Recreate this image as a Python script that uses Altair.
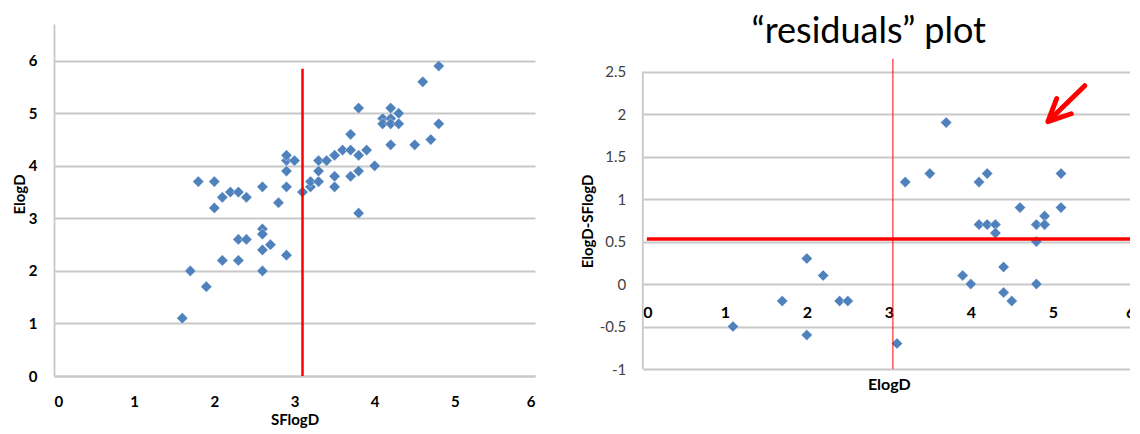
import altair as alt
import pandas as pd

# ---- data ----
sflogd = [1.6, 1.7, 1.9, 1.8, 2.0, 2.0, 2.1, 2.2, 2.3, 2.4, 2.1, 2.3, 2.3, 2.4, 2.6,
          2.6, 2.6, 2.6, 2.7, 2.6, 2.8, 2.9, 2.9, 2.9, 2.9, 2.9, 3.0, 3.1, 3.2, 3.2,
          3.3, 3.3, 3.3, 3.4, 3.5, 3.5, 3.5, 3.6, 3.7, 3.7, 3.7, 3.8, 3.8, 3.8, 3.8,
          3.9, 4.0, 4.1, 4.1, 4.2, 4.2, 4.2, 4.2, 4.3, 4.3, 4.5, 4.6, 4.7, 4.8, 4.8]
elogd = [1.1, 2.0, 1.7, 3.7, 3.7, 3.2, 3.4, 3.5, 3.5, 3.4, 2.2, 2.2, 2.6, 2.6, 3.6,
         2.8, 2.7, 2.4, 2.5, 2.0, 3.3, 2.3, 3.6, 3.9, 4.1, 4.2, 4.1, 3.5, 3.6, 3.7,
         3.7, 3.9, 4.1, 4.1, 4.2, 3.8, 3.6, 4.3, 4.3, 4.6, 3.8, 5.1, 4.2, 3.9, 3.1,
         4.3, 4.0, 4.9, 4.8, 5.1, 4.9, 4.8, 4.4, 5.0, 4.8, 4.4, 5.6, 4.5, 5.9, 4.8]

res_elogd = [1.1, 1.7, 2.0, 2.0, 2.2, 2.4, 2.5, 3.1, 3.2, 3.5, 3.7, 3.9, 4.0, 4.1, 4.2,
             4.1, 4.2, 4.3, 4.3, 4.4, 4.4, 4.5, 4.6, 4.8, 4.8, 4.8, 4.9, 4.9, 5.1, 5.1]
residual = [-0.5, -0.2, 0.3, -0.6, 0.1, -0.2, -0.2, -0.7, 1.2, 1.3, 1.9, 0.1, 0.0, 1.2, 1.3,
            0.7, 0.7, 0.7, 0.6, 0.2, -0.1, -0.2, 0.9, 0.7, 0.5, 0.0, 0.8, 0.7, 1.3, 0.9]

left_ticks = [0, 1, 2, 3, 4, 5, 6]
right_y_ticks = [-1, -0.5, 0, 0.5, 1, 1.5, 2, 2.5]

# annotation lines (data units)
left_cut = {"x": [3.1], "y": [0], "y2": [5.85]}
right_cut = {"x": [3.05], "y": [-1], "y2": [2.65]}
right_mean = {"x": [0.05], "x2": [6.0], "y": [0.53]}
right_axis_line = {"x": [0], "y": [-1], "y2": [2.5]}
arrow_shaft = {"x": [5.39], "y": [2.334], "x2": [4.96], "y2": [1.93]}
arrow_tip = {"x": [4.94], "y": [1.91]}

FONT = "Lato"
BLUE = "#4F81BD"
RED = "#FF0000"
GRID = "#C8C8C8"

# ---- left panel ----
df_left = pd.DataFrame({"SFlogD": sflogd, "ElogD": elogd})

xL = alt.X("SFlogD:Q", scale=alt.Scale(domain=[0, 6], nice=False),
           axis=alt.Axis(values=left_ticks, format="d", grid=False, domain=True,
                         domainColor=GRID, domainWidth=1.8, ticks=False, tickSize=0,
                         labelPadding=18, labelFont=FONT, labelFontSize=15,
                         labelFontWeight="bold", labelColor="#000000", title="SFlogD",
                         titleFont=FONT, titleFontSize=15, titleFontWeight="bold",
                         titleColor="#000000", titleY=43, titleBaseline="middle"))
yL = alt.Y("ElogD:Q", scale=alt.Scale(domain=[0, 6.7], nice=False),
           axis=alt.Axis(values=left_ticks, format="d", grid=True, gridColor=GRID,
                         gridWidth=1.8, domain=True, domainColor=GRID, domainWidth=1.8,
                         ticks=False, tickSize=0, labelPadding=17, labelFont=FONT,
                         labelFontSize=15, labelFontWeight="bold", labelColor="#000000",
                         title="ElogD", titleFont=FONT, titleFontSize=15,
                         titleFontWeight="bold", titleColor="#000000", titleX=-35,
                         titleY=170, titleBaseline="middle", titleAngle=270))

left_pts = alt.Chart(df_left).mark_point(
    shape="diamond", filled=True, size=125, color=BLUE, opacity=1,
    stroke="white", strokeWidth=0.4).encode(x=xL, y=yL)

left_line = alt.Chart(pd.DataFrame(left_cut)).mark_rule(color=RED, strokeWidth=2.5).encode(
    x="x:Q", y="y:Q", y2="y2:Q")

left = alt.layer(left_pts, left_line).properties(width=481, height=352)

# ---- right panel ----
df_right = pd.DataFrame({"ElogD": res_elogd, "res": residual})

xR = alt.X("ElogD:Q", scale=alt.Scale(domain=[0, 6], nice=False),
           axis=alt.Axis(values=left_ticks, format="d", grid=False, domain=False,
                         ticks=False, tickSize=0, offset=-85, labelPadding=20,
                         labelFont=FONT, labelFontSize=16, labelFontWeight="bold",
                         labelColor="#000000", title="ElogD", titleFont=FONT,
                         titleFontSize=16, titleFontWeight="bold", titleColor="#000000",
                         titleY=100, titleBaseline="middle"))
yR = alt.Y("res:Q", scale=alt.Scale(domain=[-1, 3.06], nice=False),
           axis=alt.Axis(values=right_y_ticks, grid=True, gridColor=GRID, gridWidth=1.8,
                         domain=False, ticks=False, tickSize=0, labelPadding=17,
                         labelFont=FONT, labelFontSize=15, labelColor="#404040",
                         labelExpr="datum.value < 0 ? '-' + format(-datum.value, '~g') : format(datum.value, '~g')",
                         title="ElogD-SFlogD", titleFont=FONT, titleFontSize=15,
                         titleFontWeight="bold", titleColor="#000000", titleX=-55,
                         titleY=197, titleBaseline="middle", titleAngle=270))

right_axis = alt.Chart(pd.DataFrame(right_axis_line)).mark_rule(
    color=GRID, strokeWidth=1.8).encode(x="x:Q", y="y:Q", y2="y2:Q")

right_pts = alt.Chart(df_right).mark_point(
    shape="diamond", filled=True, size=125, color=BLUE, opacity=1,
    stroke="white", strokeWidth=0.4).encode(x=xR, y=yR)

right_v = alt.Chart(pd.DataFrame(right_cut)).mark_rule(color=RED, strokeWidth=1).encode(
    x="x:Q", y="y:Q", y2="y2:Q")
right_h = alt.Chart(pd.DataFrame(right_mean)).mark_rule(color=RED, strokeWidth=3.5).encode(
    x="x:Q", x2="x2:Q", y="y:Q")
shaft = alt.Chart(pd.DataFrame(arrow_shaft)).mark_rule(
    color=RED, strokeWidth=5, strokeCap="round").encode(
    x="x:Q", y="y:Q", x2="x2:Q", y2="y2:Q")
tip = alt.Chart(pd.DataFrame(arrow_tip)).mark_point(
    shape="M-1,-0.47L0,0L-1,0.47", filled=False, stroke=RED, strokeWidth=5, size=2000,
    angle=136, opacity=1, strokeCap="round", strokeJoin="round").encode(x="x:Q", y="y:Q")

right = alt.layer(right_axis, right_pts, right_v, right_h, shaft, tip).properties(
    width=492, height=345,
    title=alt.TitleParams("\u201cresiduals\u201d plot", font=FONT, fontSize=36,
                          fontWeight="normal", color="#000000", anchor="middle",
                          dx=-20, dy=37, offset=-18, baseline="alphabetic"))

chart = alt.hconcat(left, right, spacing=107.8, bounds="flush").configure_view(
    stroke=None).properties(padding={"left": 4, "top": 6, "right": -7, "bottom": 1})

chart.save("out.html", embed_options={"renderer": "svg", "actions": False})
